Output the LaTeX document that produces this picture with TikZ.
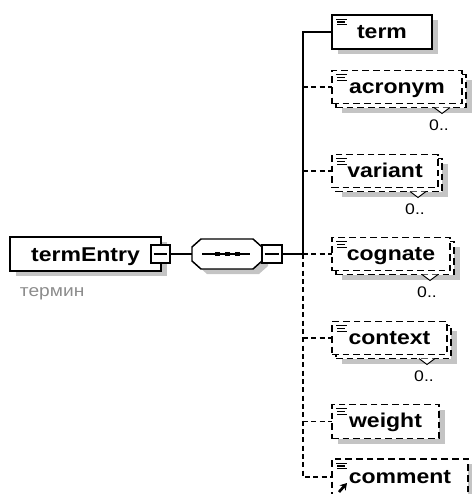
\documentclass[tikz,border=0pt]{standalone}
\usepackage{fontspec}
\setmainfont{Liberation Sans}
\newfontfamily\lsans[FakeStretch=1.15]{Liberation Sans}
\usetikzlibrary{shadows,arrows.meta}
\definecolor{shadowgray}{HTML}{C4C4C4}
\definecolor{notegray}{HTML}{8C8C8C}
\begin{document}
\begin{tikzpicture}[x=0.75pt,y=-0.75pt,
  every node/.style={inner sep=0pt, outer sep=0pt},
  sz/.style 2 args={minimum width=#1*0.75pt, minimum height=#2*0.75pt},
  elbox/.style={rectangle, draw=black, line width=1.1pt, fill=white,
     font=\lsans\bfseries\fontsize{15pt}{15pt}\selectfont, text height=9pt, text depth=0pt},
  optbox/.style={elbox, dash pattern=on 5pt off 3pt},
  shad/.style={drop shadow={shadow xshift=4.5pt, shadow yshift=-3.75pt, opacity=1, fill=shadowgray, draw=none}},
  minbox/.style={rectangle, draw=black, line width=1.1pt, fill=white},
  minline/.style={line width=0.9pt},
  conn/.style={line width=1.1pt},
  optconn/.style={line width=1.1pt, dash pattern=on 3.75pt off 2.5pt},
  vnotch/.style={line width=0.7pt, fill=white},
  zero/.style={font=\lsans\fontsize{11.5pt}{11.5pt}\selectfont},
  eqline/.style={line width=0.8pt},
  pics/eqicon/.style={code={
    \draw[eqline] (4,4.3) -- (15,4.3);
    \draw[eqline] (5,7) -- (13,7);
    \draw[eqline] (5,9.7) -- (15,9.7);
  }}
]
\useasboundingbox (0,0) rectangle (472,494);

% ---- root element
\node[elbox, sz={151}{34}, shad, text height=11.5pt] (te) at (85.5,254) {termEntry};
\node[anchor=base west, font=\lsans\fontsize{12.5pt}{12.5pt}\selectfont, text=notegray] (tnote) at (20,296) {термин};
\node[minbox, sz={19}{18}] (temin) at (160.5,254) {};
\draw[minline] ([xshift=2pt]temin.west) -- ([xshift=-2pt]temin.east);

% ---- sequence compositor
\fill[shadowgray] (207,244) -- (259,244) -- (268,252) -- (268,266) -- (259,274) -- (207,274) -- (198,266) -- (198,252) -- cycle;
\draw[fill=white, line width=1.1pt] (201,239) -- (253,239) -- (262,247) -- (262,261) -- (253,269) -- (201,269) -- (192,261) -- (192,247) -- cycle;
\node[sz={70}{30}] (seq) at (227,254) {};
\draw[line width=1.1pt] (202,254) -- (250,254);
\fill (214.5,252) rectangle (219.5,256);
\fill (224.5,252) rectangle (229.5,256);
\fill (234.5,252) rectangle (239.5,256);
\node[minbox, sz={20}{18}] (seqmin) at (272,254) {};
\draw[minline] ([xshift=2pt]seqmin.west) -- ([xshift=-2pt]seqmin.east);

\coordinate (busmid) at (303,254);

% ---- children
\node[elbox, sz={100}{34}, shad] (term) at (382,32) {term};
\pic at (term.north west) {eqicon};

\node[optbox, sz={130}{33}, shad] (acrB) at (401,91) {};
\node[optbox, sz={130}{33}] (acr) at (397,87) {acronym};
\pic at (acr.north west) {eqicon};
\draw[vnotch] ([xshift=-24pt]acrB.south east) -- ++(8,6) -- ++(8,-6);
\node[zero] (acrN) at ([xshift=-20.25pt,yshift=-13.5pt]acrB.south east) {0..};

\node[optbox, sz={106}{33}, shad] (varB) at (389,175) {};
\node[optbox, sz={106}{33}] (var) at (385,171) {variant};
\pic at (var.north west) {eqicon};
\draw[vnotch] ([xshift=-24pt]varB.south east) -- ++(8,6) -- ++(8,-6);
\node[zero] (varN) at ([xshift=-20.25pt,yshift=-13.5pt]varB.south east) {0..};

\node[optbox, sz={118}{33}, shad] (cogB) at (395,258) {};
\node[optbox, sz={118}{33}] (cog) at (391,254) {cognate};
\pic at (cog.north west) {eqicon};
\draw[vnotch] ([xshift=-24pt]cogB.south east) -- ++(8,6) -- ++(8,-6);
\node[zero] (cogN) at ([xshift=-20.25pt,yshift=-13.5pt]cogB.south east) {0..};

\node[optbox, sz={115}{33}, shad] (ctxB) at (393.5,342) {};
\node[optbox, sz={115}{33}] (ctx) at (389.5,338) {context};
\pic at (ctx.north west) {eqicon};
\draw[vnotch] ([xshift=-24pt]ctxB.south east) -- ++(8,6) -- ++(8,-6);
\node[zero] (ctxN) at ([xshift=-20.25pt,yshift=-13.5pt]ctxB.south east) {0..};

\node[optbox, sz={107}{34}, shad] (wgt) at (385.5,421.5) {weight};
\pic at (wgt.north west) {eqicon};

\node[optbox, sz={136}{36}, shad] (com) at (400,477) {comment};
\pic at (com.north west) {eqicon};
\draw[line width=2pt, -{Stealth[length=5pt,width=6pt]}] ([shift={(7,15)}]com.west) -- ([shift={(15,6)}]com.west);

% ---- connectors
\draw[conn] (temin.east) -- (seq.west);
\draw[conn] (seqmin.east) -- (busmid);
\draw[conn] (term.west) -- (term.west -| busmid) -- (busmid);
\draw[optconn] (busmid) -- (com.west -| busmid) -- (com.west);
\draw[optconn] (acr.west -| busmid) -- (acr.west);
\draw[optconn] (var.west -| busmid) -- (var.west);
\draw[optconn] (busmid) -- (cog.west);
\draw[optconn] (ctx.west -| busmid) -- (ctx.west);
\draw[optconn] (wgt.west -| busmid) -- (wgt.west);
\end{tikzpicture}
\end{document}
